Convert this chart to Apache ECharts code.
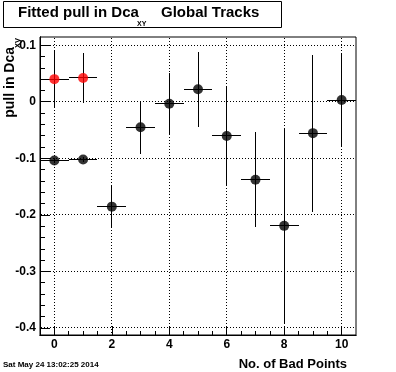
<!DOCTYPE html>
<html><head><meta charset="utf-8">
<script src="https://cdn.jsdelivr.net/npm/echarts@6/dist/echarts.min.js"></script>
<style>html,body{margin:0;padding:0;background:#fff}#c{width:396px;height:372px}</style>
</head><body><div id="c"></div><script>
// ---- data ----
const badPoints = [0, 1, 2, 3, 4, 5, 6, 7, 8, 9, 10];
const blackPull = [-0.104, -0.102, -0.1855, -0.045, -0.0035, 0.022, -0.0605, -0.138, -0.2195, -0.0555, 0.003];
const blackErr  = [0.004, 0.004, 0.036, 0.047, 0.054, 0.066, 0.087, 0.084, 0.171, 0.139, 0.083];
const blackBinHalf = [0.5, 0.5, 0.5, 0.5, 0.5, 0.5, 0.5, 0.5, 0.5, 0.5, 0.5];
const redPoints = [0, 1];
const redPull   = [0.040, 0.042];
const redErr    = [0.051, 0.045];
const redBinHalf = [0.5, 0.5];
const xMajorTicks = [0, 2, 4, 6, 8, 10];
const xMinorTicks = [0, 0.5, 1, 1.5, 2, 2.5, 3, 3.5, 4, 4.5, 5, 5.5, 6, 6.5, 7, 7.5, 8, 8.5, 9, 9.5, 10];
const yMajorTicks = [-0.4, -0.3, -0.2, -0.1, 0, 0.1];
const yMinorTicks = [-0.4, -0.38, -0.36, -0.34, -0.32, -0.3, -0.28, -0.26, -0.24, -0.22, -0.2, -0.18, -0.16, -0.14, -0.12, -0.1, -0.08, -0.06, -0.04, -0.02, 0, 0.02, 0.04, 0.06, 0.08, 0.1];
const titleMain = 'Fitted pull in Dca';
const titleSub = 'XY';
const titleRest = 'Global Tracks';
const xTitle = 'No. of Bad Points';
const yTitle = 'pull in Dca';
const yTitleSub = 'xy';
const dateStamp = 'Sat May 24 13:02:25 2014';

const FONT = '"Liberation Sans", Arial, Helvetica, sans-serif';
const X_MIN = -0.5, X_MAX = 10.5, Y_MIN = -0.4125, Y_MAX = 0.1145;

const chart = echarts.init(document.getElementById('c'), null, {renderer: 'canvas'});

function errData(xs, ys, ey, ex) { return xs.map((x, i) => [x, ys[i], ey[i], ex[i]]); }
function ptData(xs, ys) { return xs.map((x, i) => [x, ys[i]]); }
const snap = v => Math.round(v - 0.5) + 0.5;

function renderErr(params, api) {
  const x = api.value(0), y = api.value(1), ey = api.value(2), ex = api.value(3);
  const c = api.coord([x, y]);
  const t = api.coord([x, y + ey]), b = api.coord([x, y - ey]);
  const l = api.coord([x - ex, y]), r = api.coord([x + ex, y]);
  const st = {stroke: '#000', lineWidth: 1};
  const cx = snap(c[0]), cy = snap(c[1]);
  return {type: 'group', children: [
    {type: 'line', shape: {x1: cx, y1: Math.round(t[1]), x2: cx, y2: Math.round(b[1])}, style: st},
    {type: 'line', shape: {x1: Math.round(l[0]), y1: cy, x2: Math.round(r[0]), y2: cy}, style: st}
  ]};
}
// dotted grid lines at the major tick values: [kind(0 = vertical, 1 = horizontal), value, unused]
function renderGrid(params, api) {
  const cs = params.coordSys;
  const kind = api.value(0), v = api.value(1);
  const st = {stroke: '#000', lineWidth: 1, lineDash: [1, 2]};
  if (kind === 0) {
    const px = snap(api.coord([v, 0])[0]);
    return {type: 'line', shape: {x1: px, y1: cs.y + 1, x2: px, y2: cs.y + cs.height}, style: st};
  }
  const py = snap(api.coord([0, v])[1]);
  return {type: 'line', shape: {x1: cs.x + 1, y1: py, x2: cs.x + cs.width, y2: py}, style: st};
}

const axisCommon = {
  type: 'value', min: X_MIN, max: X_MAX, position: 'bottom',
  axisLine: {show: true, onZero: false, lineStyle: {color: '#000', width: 1}},
  splitLine: {show: false}
};
const yCommon = {
  type: 'value', min: Y_MIN, max: Y_MAX, position: 'left',
  axisLine: {show: true, onZero: false, lineStyle: {color: '#000', width: 1}},
  splitLine: {show: false}
};

const gridData = xMajorTicks.map(v => [0, v, 0]).concat(yMajorTicks.map(v => [1, v, 0]));

chart.setOption({
  animation: false,
  backgroundColor: '#fff',
  grid: {left: 40, right: 40, top: 37, bottom: 37, show: true, borderColor: '#000', borderWidth: 1},
  xAxis: [
    Object.assign({}, axisCommon, {
      axisTick: {show: true, inside: true, length: 4, customValues: xMinorTicks, lineStyle: {color: '#000'}},
      axisLabel: {show: false}
    }),
    Object.assign({}, axisCommon, {
      axisTick: {show: true, inside: true, length: 9, customValues: xMajorTicks, lineStyle: {color: '#000'}},
      axisLabel: {show: true, customValues: xMajorTicks, color: '#000', fontFamily: FONT, fontWeight: 'bold', fontSize: 12, margin: 4}
    })
  ],
  yAxis: [
    Object.assign({}, yCommon, {
      axisTick: {show: true, inside: true, length: 5, customValues: yMinorTicks, lineStyle: {color: '#000'}},
      axisLabel: {show: false}
    }),
    Object.assign({}, yCommon, {
      axisTick: {show: true, inside: true, length: 10, customValues: yMajorTicks, lineStyle: {color: '#000'}},
      axisLabel: {show: true, customValues: yMajorTicks, color: '#000', fontFamily: FONT, fontWeight: 'bold', fontSize: 12, margin: 4}
    })
  ],
  series: [
    {type: 'custom', xAxisIndex: 0, yAxisIndex: 0, z: 3, silent: true, renderItem: renderGrid,
      dimensions: ['kind', 'val', 'pad'], encode: {x: 2, y: 2}, data: gridData},
    {type: 'custom', xAxisIndex: 0, yAxisIndex: 0, z: 3, silent: true, renderItem: renderErr, data: errData(badPoints, blackPull, blackErr, blackBinHalf)},
    {type: 'custom', xAxisIndex: 0, yAxisIndex: 0, z: 3, silent: true, renderItem: renderErr, data: errData(redPoints, redPull, redErr, redBinHalf)},
    {type: 'scatter', xAxisIndex: 0, yAxisIndex: 0, z: 4, symbol: 'circle', symbolSize: 10, itemStyle: {color: '#000'}, data: ptData(badPoints, blackPull)},
    {type: 'scatter', xAxisIndex: 0, yAxisIndex: 0, z: 4, symbol: 'circle', symbolSize: 10, itemStyle: {color: '#ff0000'}, data: ptData(redPoints, redPull)}
  ],
  graphic: [
    {type: 'rect', shape: {x: 3.5, y: 1.5, width: 278, height: 26}, style: {fill: '#fff', stroke: '#000', lineWidth: 1}, z: 10},
    {type: 'text', x: 18, y: 13, z: 11, style: {text: titleMain, font: 'bold 15px ' + FONT, fill: '#000', verticalAlign: 'middle'}},
    {type: 'text', x: 137, y: 24.5, z: 11, style: {text: titleSub, font: 'bold 7px ' + FONT, fill: '#000', verticalAlign: 'middle'}},
    {type: 'text', x: 161, y: 13, z: 11, style: {text: titleRest, font: 'bold 15px ' + FONT, fill: '#000', verticalAlign: 'middle'}},
    {type: 'text', x: 10, y: 47, rotation: Math.PI / 2, z: 11, style: {text: yTitle, font: 'bold 14px ' + FONT, fill: '#000', align: 'right', verticalAlign: 'middle'}},
    {type: 'text', x: 18, y: 38, rotation: Math.PI / 2, z: 11, style: {text: yTitleSub, font: 'bold 9px ' + FONT, fill: '#000', align: 'right', verticalAlign: 'middle'}},
    {type: 'text', x: 347, y: 364, z: 11, style: {text: xTitle, font: 'bold 13px ' + FONT, fill: '#000', align: 'right', verticalAlign: 'middle'}},
    {type: 'text', x: 3, y: 365, z: 11, style: {text: dateStamp, font: 'bold 8px ' + FONT, fill: '#000', align: 'left', verticalAlign: 'middle'}}
  ]
});
</script></body></html>
